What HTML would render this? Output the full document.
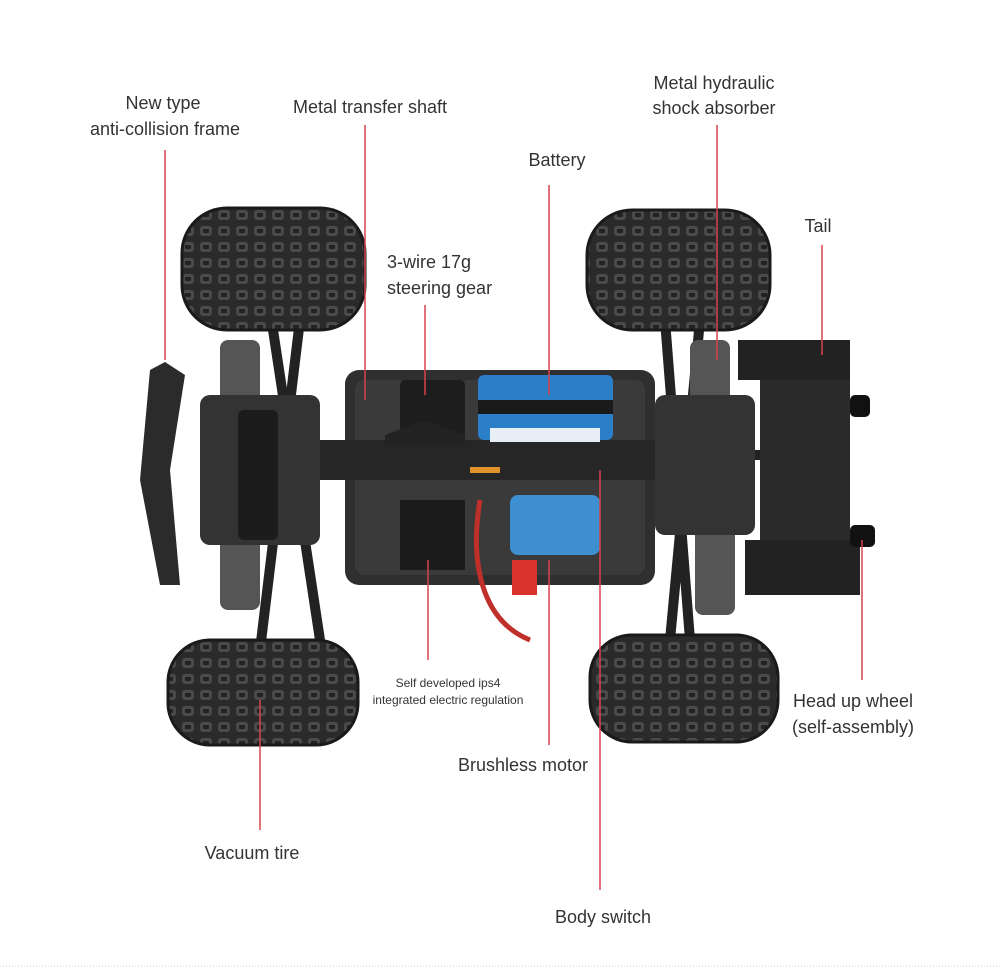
<!DOCTYPE html>
<html><head><meta charset="utf-8"><style>
html,body{margin:0;padding:0;background:#fff;}
svg{display:block;}
text{font-family:"Liberation Sans",sans-serif;fill:#333;}
</style></head><body>
<svg width="1001" height="970" viewBox="0 0 1001 970" xmlns="http://www.w3.org/2000/svg">
<defs>
<pattern id="tread" width="18" height="16" patternUnits="userSpaceOnUse">
<rect width="18" height="16" fill="#2a2a2a"/>
<rect x="2" y="2" width="12" height="10" rx="3" fill="#4a4a4a"/>
<rect x="5" y="5" width="6" height="4" rx="1" fill="#222"/>
</pattern>
</defs>
<!-- axle arms -->
<g stroke="#222" stroke-width="10" fill="none">
<line x1="270" y1="310" x2="320" y2="640"/>
<line x1="300" y1="320" x2="260" y2="650"/>
<line x1="665" y1="320" x2="690" y2="640"/>
<line x1="700" y1="320" x2="670" y2="640"/>
<line x1="200" y1="460" x2="360" y2="460"/>
<line x1="640" y1="455" x2="760" y2="455"/>
</g>
<!-- shocks -->
<rect x="220" y="340" width="40" height="80" rx="8" fill="#555"/>
<rect x="220" y="520" width="40" height="90" rx="8" fill="#555"/>
<rect x="690" y="340" width="40" height="80" rx="8" fill="#555"/>
<rect x="695" y="525" width="40" height="90" rx="8" fill="#555"/>
<!-- wheels -->
<rect x="182" y="208" width="183" height="122" rx="45" fill="url(#tread)" stroke="#1a1a1a" stroke-width="3"/>
<rect x="587" y="210" width="183" height="120" rx="45" fill="url(#tread)" stroke="#1a1a1a" stroke-width="3"/>
<rect x="168" y="640" width="190" height="105" rx="42" fill="url(#tread)" stroke="#1a1a1a" stroke-width="3"/>
<rect x="590" y="635" width="188" height="107" rx="42" fill="url(#tread)" stroke="#1a1a1a" stroke-width="3"/>
<!-- front frame -->
<rect x="200" y="395" width="120" height="150" rx="10" fill="#333"/>
<path d="M165 362 L185 375 L170 470 L180 585 L160 585 L140 480 L150 370 Z" fill="#2b2b2b"/>
<rect x="238" y="410" width="40" height="130" rx="6" fill="#1c1c1c"/>
<!-- chassis -->
<rect x="345" y="370" width="310" height="215" rx="14" fill="#2f2f2f"/>
<rect x="355" y="380" width="290" height="195" rx="10" fill="#3a3a3a"/>
<rect x="320" y="440" width="360" height="40" fill="#262626"/>
<!-- rear frame -->
<rect x="655" y="395" width="100" height="140" rx="10" fill="#333"/>
<!-- battery -->
<rect x="478" y="375" width="135" height="65" rx="6" fill="#2a7fc8"/>
<rect x="478" y="400" width="135" height="14" fill="#1a1a1a"/>
<rect x="490" y="428" width="110" height="14" fill="#e8eef5"/>
<!-- servo -->
<rect x="400" y="380" width="65" height="60" rx="5" fill="#1d1d1d"/>
<path d="M385 435 L425 420 L465 435 L465 445 L385 445 Z" fill="#222"/>
<!-- ESC & motor -->
<rect x="400" y="500" width="65" height="70" fill="#1b1b1b"/>
<rect x="510" y="495" width="90" height="60" rx="8" fill="#3d8fd0"/>
<rect x="512" y="560" width="25" height="35" fill="#d9332b"/>
<path d="M480 500 C470 560 480 620 530 640" stroke="#c0302a" stroke-width="5" fill="none"/>
<path d="M470 470 L500 470" stroke="#e2922a" stroke-width="6"/>
<!-- wing -->
<rect x="738" y="340" width="112" height="40" fill="#222"/>
<rect x="760" y="380" width="90" height="215" fill="#2a2a2a"/>
<rect x="745" y="540" width="115" height="55" fill="#222"/>
<rect x="850" y="395" width="20" height="22" rx="5" fill="#111"/>
<rect x="850" y="525" width="25" height="22" rx="5" fill="#111"/>
<!-- red lines -->
<g stroke="#d9434a" stroke-width="1.5">
<line x1="165" y1="150" x2="165" y2="360"/>
<line x1="365" y1="125" x2="365" y2="400"/>
<line x1="549" y1="185" x2="549" y2="395"/>
<line x1="717" y1="125" x2="717" y2="360"/>
<line x1="822" y1="245" x2="822" y2="355"/>
<line x1="425" y1="305" x2="425" y2="395"/>
<line x1="428" y1="560" x2="428" y2="660"/>
<line x1="862" y1="540" x2="862" y2="680"/>
<line x1="549" y1="560" x2="549" y2="745"/>
<line x1="260" y1="700" x2="260" y2="830"/>
<line x1="600" y1="470" x2="600" y2="890"/>
</g>
<!-- labels -->
<g font-size="18" text-anchor="middle">
<text x="163" y="109">New type</text>
<text x="165" y="135">anti-collision frame</text>
<text x="370" y="113">Metal transfer shaft</text>
<text x="557" y="166">Battery</text>
<text x="714" y="89">Metal hydraulic</text>
<text x="714" y="114">shock absorber</text>
<text x="818" y="232">Tail</text>
<text x="853" y="707">Head up wheel</text>
<text x="853" y="733">(self-assembly)</text>
<text x="523" y="771">Brushless motor</text>
<text x="252" y="859">Vacuum tire</text>
<text x="603" y="923">Body switch</text>
</g>
<g font-size="18" text-anchor="start">
<text x="387" y="268">3-wire 17g</text>
<text x="387" y="294">steering gear</text>
</g>
<g font-size="12" text-anchor="middle">
<text x="448" y="687">Self developed ips4</text>
<text x="448" y="704">integrated electric regulation</text>
</g>
<line x1="0" y1="966" x2="1001" y2="966" stroke="#ccc" stroke-dasharray="1,2"/>
</svg>
</body></html>
